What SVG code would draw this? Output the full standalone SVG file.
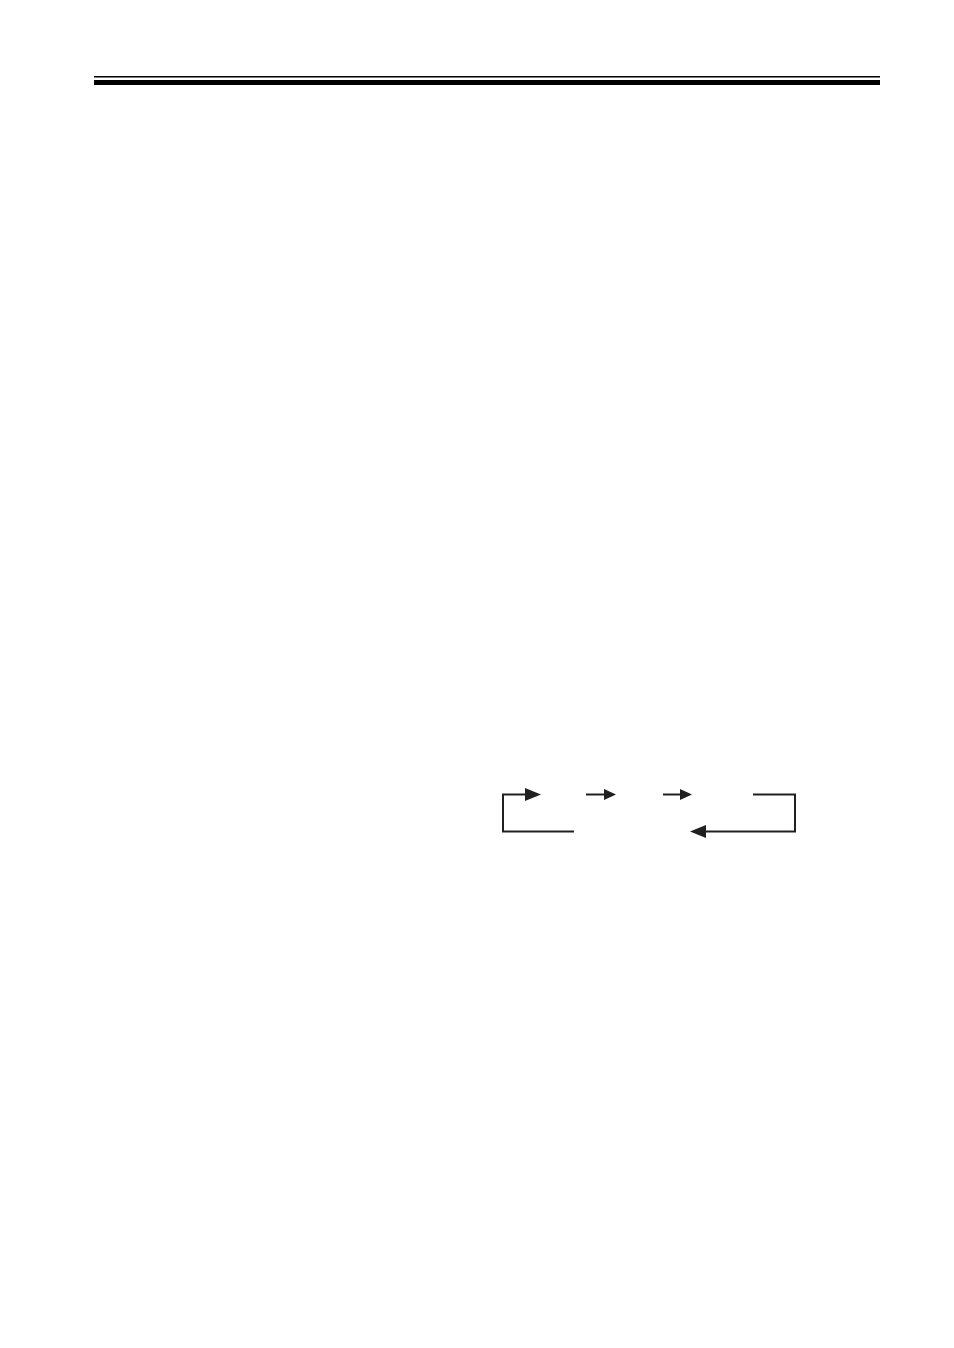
<svg xmlns="http://www.w3.org/2000/svg" width="954" height="1348" viewBox="0 0 954 1348">
<style>
.ln{fill:none;stroke:#231f20;stroke-width:2}
.hd{fill:#231f20;stroke:none}
</style>
<rect width="954" height="1348" fill="#fff"/>
<g id="header">
<rect x="94" y="76" width="786" height="1.5" fill="#000"/>
<rect x="94" y="80" width="786" height="5" fill="#000"/>
</g>
<g id="connectors">
<polyline class="ln" points="574,831.5 503,831.5 503,794.5 527,794.5"/>
<polygon class="hd" points="525,788 541,794.5 525,801"/>
<line class="ln" x1="586" y1="794.5" x2="606" y2="794.5"/>
<polygon class="hd" points="604,789 616,794.5 604,800"/>
<line class="ln" x1="663" y1="794.5" x2="682" y2="794.5"/>
<polygon class="hd" points="680,789 692,794.5 680,800"/>
<polyline class="ln" points="753,794.5 795,794.5 795,831.5 704,831.5"/>
<polygon class="hd" points="706,825 690,831.5 706,838"/>
</g>
</svg>
